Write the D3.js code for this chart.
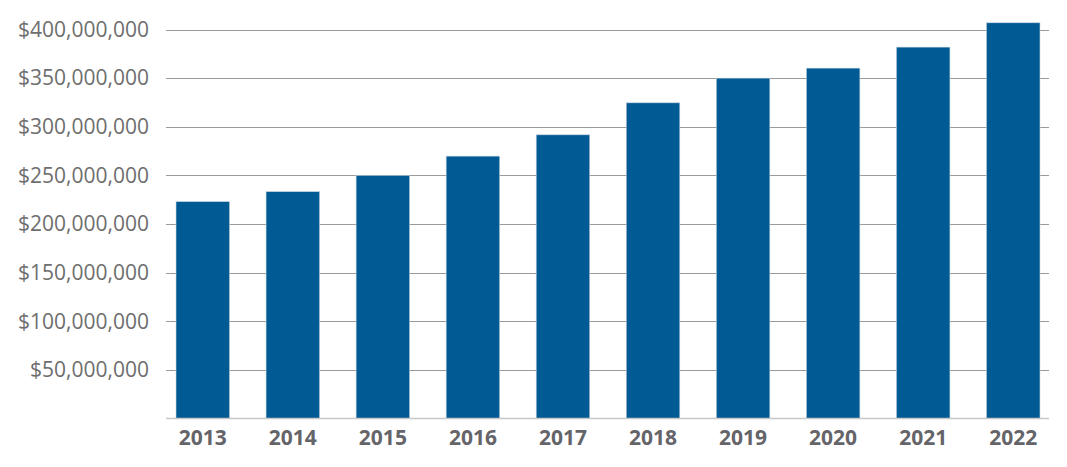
<!DOCTYPE html>
<html>
<head>
<meta charset="utf-8">
<script src="https://cdn.jsdelivr.net/npm/d3@7"></script>
<style>
  body { margin: 0; background: #fff; }
  .ylab { font-family: "Open Sans", sans-serif; font-size: 21px; fill: #6e6e6e; }
  .xlab { font-family: "Open Sans", sans-serif; font-size: 21px; font-weight: bold; fill: #646469; }
</style>
</head>
<body>
<script>
// chart values
var years = ["2013","2014","2015","2016","2017","2018","2019","2020","2021","2022"];
var amounts = [223000000, 233300000, 250000000, 269800000, 291700000, 324600000, 350000000, 360300000, 381900000, 406900000];
var yTicks = [50000000, 100000000, 150000000, 200000000, 250000000, 300000000, 350000000, 400000000];

var W = 1067, H = 467;
var plot = { left: 166, right: 1049, top: 29.5, bottom: 418.5 };

var svg = d3.select("body").append("svg")
  .attr("width", W)
  .attr("height", H);

var x = d3.scaleBand()
  .domain(years)
  .range([158, 1058])
  .paddingInner(0.405)
  .paddingOuter(0.2);

var y = d3.scaleLinear()
  .domain([0, 400000000])
  .range([plot.bottom, plot.top]);

var fmt = function(v) { return "$" + d3.format(",")(v); };

// gridlines
svg.append("g").selectAll("line")
  .data(yTicks)
  .join("line")
  .attr("x1", plot.left)
  .attr("x2", plot.right)
  .attr("y1", function(d) { return Math.round(y(d)) + 0.5; })
  .attr("y2", function(d) { return Math.round(y(d)) + 0.5; })
  .attr("stroke", "#9a9a9a")
  .attr("stroke-width", 1);

// y labels
svg.append("g").selectAll("text")
  .data(yTicks)
  .join("text")
  .attr("class", "ylab")
  .attr("x", 149)
  .attr("y", function(d) { return y(d); })
  .attr("dy", "0.35em")
  .attr("text-anchor", "end")
  .text(fmt);

// bars
svg.append("g").selectAll("rect")
  .data(amounts)
  .join("rect")
  .attr("x", function(d, i) { return x(years[i]); })
  .attr("width", x.bandwidth())
  .attr("y", function(d) { return y(d); })
  .attr("height", function(d) { return y(0) - y(d); })
  .attr("fill", "#005a94")
  .attr("stroke", "#c9d4e0")
  .attr("stroke-width", 0.6);

// baseline
svg.append("line")
  .attr("x1", plot.left)
  .attr("x2", plot.right)
  .attr("y1", plot.bottom)
  .attr("y2", plot.bottom)
  .attr("stroke", "#c8c8c8")
  .attr("stroke-width", 1.5);

// x labels
svg.append("g").selectAll("text")
  .data(years)
  .join("text")
  .attr("class", "xlab")
  .attr("x", function(d) { return x(d) + x.bandwidth() / 2; })
  .attr("y", 445)
  .attr("text-anchor", "middle")
  .text(function(d) { return d; });
</script>
</body>
</html>
